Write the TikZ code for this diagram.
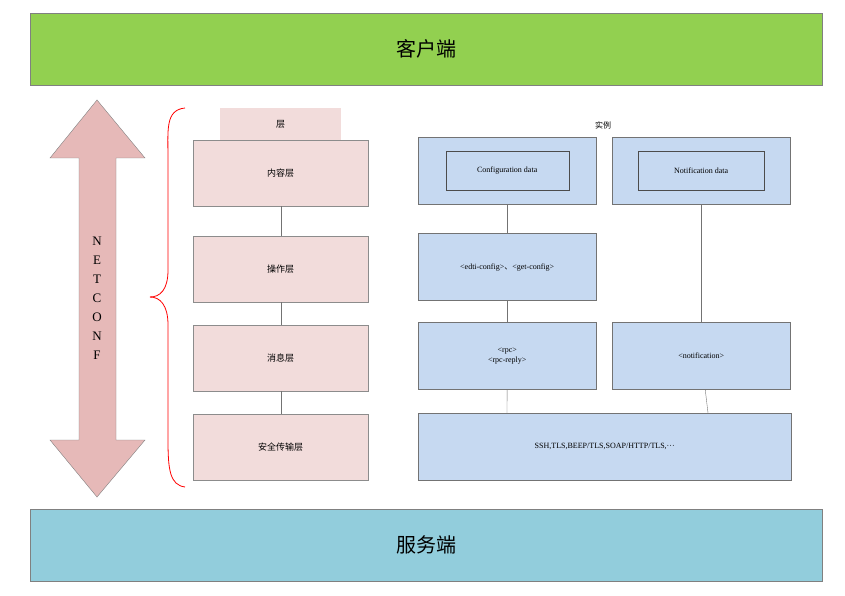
\documentclass[tikz,border=0pt]{standalone}
\usepackage{fontspec}
\setmainfont{Liberation Serif}
\newfontfamily\cjk{Noto Sans CJK SC}
\usetikzlibrary{positioning,decorations.pathreplacing}
\definecolor{nc_green}{RGB}{146,208,80}
\definecolor{nc_teal}{RGB}{146,205,220}
\definecolor{nc_pink}{RGB}{242,220,219}
\definecolor{nc_arrow}{RGB}{230,185,184}
\definecolor{nc_blue}{RGB}{198,217,241}
\tikzset{
  layer/.style={draw=black!45, fill=nc_pink, minimum width=175pt, minimum height=66pt, font=\cjk\fontsize{9}{11}\selectfont},
  inst/.style={draw=black!55, fill=nc_blue, minimum width=178pt, minimum height=67pt, font=\fontsize{8}{10}\selectfont, align=center},
  link/.style={draw=black!55},
}
\begin{document}
\begin{tikzpicture}[x=1pt,y=-1pt]
  \useasboundingbox (0,0) rectangle (845,596);
  % client and server
  \node[draw=black!50, fill=nc_green, minimum width=792pt, minimum height=72pt, anchor=north west, font=\cjk\fontsize{20}{24}\selectfont] (client) at (30,13) {客户端};
  \node[draw=black!50, fill=nc_teal, minimum width=792pt, minimum height=72pt, anchor=north west, font=\cjk\fontsize{20}{24}\selectfont] (server) at (30,509) {服务端};

  % netconf arrow
  \draw[draw=black!50, fill=nc_arrow] (97,100) -- (145,158) -- (116,158) -- (116,440) -- (145,440)
    -- (97,497) -- (50,440) -- (79,440) -- (79,158) -- (50,158) -- cycle;
  \node[font=\fontsize{13}{19}\selectfont, align=center] (netconf) at (97,298) {N\\E\\T\\C\\O\\N\\F};

  % brace
  \draw[red, thick] (185,108) .. controls (165,110) and (168,130) .. (168,160) -- (168,270)
    .. controls (168,290) and (160,297) .. (150,297);
  \draw[red, thick] (150,297) .. controls (160,297) and (168,305) .. (168,325) -- (168,440)
    .. controls (168,470) and (170,485) .. (185,487);

  % layers
  \node[fill=nc_pink, minimum width=121pt, minimum height=32pt, anchor=north west, font=\cjk\fontsize{9}{11}\selectfont] (head) at (220,108) {层};
  \node[layer, anchor=north west] (content) at (193,140) {内容层};
  \node[layer, anchor=north west] (oper) at (193,236) {操作层};
  \node[layer, anchor=north west] (msg) at (193,325) {消息层};
  \node[layer, anchor=north west] (trans) at (193,414) {安全传输层};
  \draw[link] (content) -- (oper);
  \draw[link] (oper) -- (msg);
  \draw[link] (msg) -- (trans);

  % instances
  \node[font=\cjk\fontsize{8}{10}\selectfont] (example) at (603,125) {实例};
  \node[inst, anchor=north west] (config) at (418,137) {};
  \node[draw=black!70, minimum width=123pt, minimum height=39pt, font=\fontsize{8}{10}\selectfont] (configdata) at (config) {Configuration data};
  \node[inst, anchor=north west] (notif) at (612,137) {};
  \node[draw=black!70, minimum width=126pt, minimum height=39pt, font=\fontsize{8}{10}\selectfont] (notifdata) at (notif) {Notification data};
  \node[inst, anchor=north west] (edit) at (418,233) {\raisebox{-8pt}{<edti-config>{\cjk 、}<get-config>}};
  \node[inst, anchor=north west] (rpc) at (418,322) {<rpc>\\<rpc-reply>};
  \node[inst, anchor=north west] (notify) at (612,322) {<notification>};
  \node[inst, minimum width=373pt, anchor=north west] (ssh) at (418,413) {SSH,TLS,BEEP/TLS,SOAP/HTTP/TLS,\textperiodcentered\textperiodcentered\textperiodcentered};
  \coordinate (sshl) at (507,413);
  \coordinate (sshr) at (708,413);
  \draw[link] (config) -- (edit);
  \draw[link] (edit) -- (rpc);
  \draw[link] (rpc) -- (sshl);
  \draw[link] (notif) -- (notify);
  \draw[link] (notify) -- (sshr);
\end{tikzpicture}
\end{document}
